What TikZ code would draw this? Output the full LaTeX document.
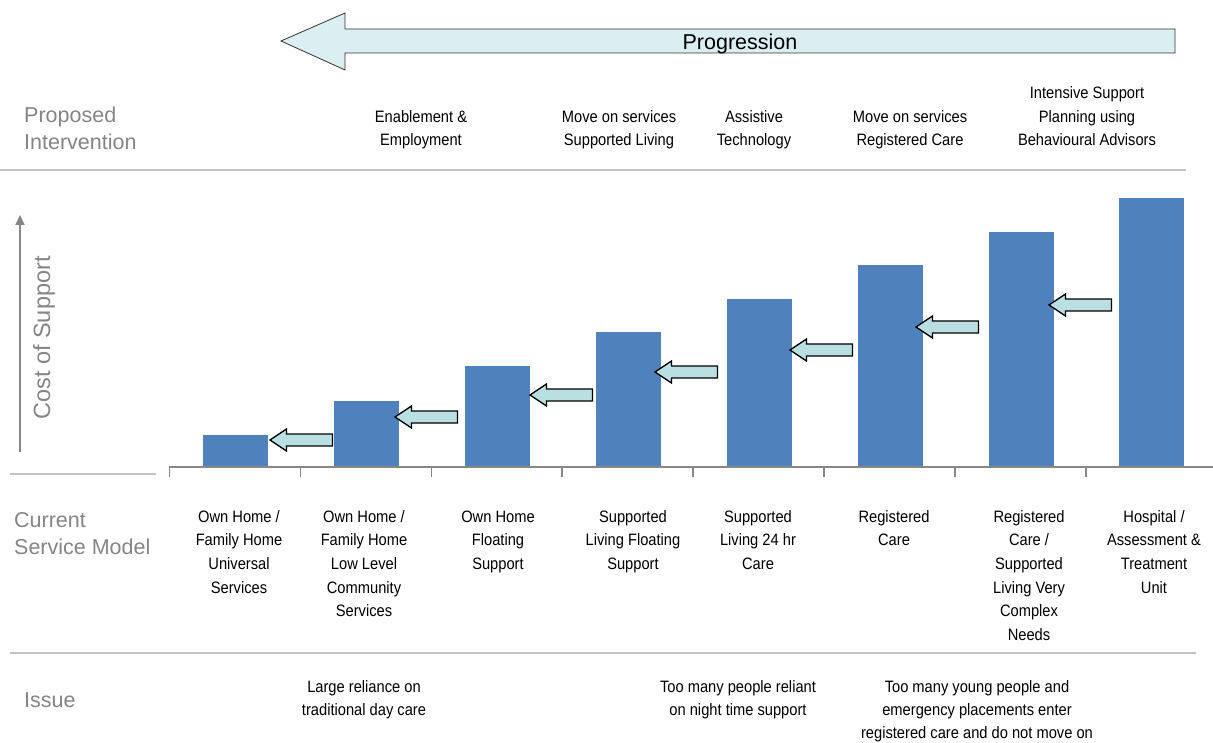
\documentclass[tikz,border=0pt]{standalone}
\usepackage{fontspec}
\setmainfont{Liberation Sans}
\newfontfamily\narrowfont[FakeStretch=0.89]{Liberation Sans}
\usetikzlibrary{arrows.meta}
\definecolor{barblue}{HTML}{4F81BD}
\definecolor{arrowfill}{HTML}{B9DFE2}
\definecolor{topfill}{HTML}{DBEEF2}
\definecolor{labelgray}{HTML}{858585}
\definecolor{linegray}{HTML}{C4C4C4}
\definecolor{axisgray}{HTML}{878787}
\begin{document}
\begin{tikzpicture}[x=1pt,y=-1pt,
  bar/.style={fill=barblue, draw=none, inner sep=0pt, outer sep=0pt, minimum width=65pt, anchor=south west},
  sarrow/.style={fill=arrowfill, draw=black, line width=1.3pt, line join=miter},
  toparrow/.style={fill=topfill, draw=black!80, line width=0.8pt},
  graylabel/.style={text=labelgray, font=\fontsize{21.5}{27.5}\selectfont, align=left, anchor=base west, inner sep=0pt},
  blacklabel/.style={font=\narrowfont\fontsize{16.5}{23.7}\selectfont, align=center, anchor=base, inner sep=0pt},
  issuelabel/.style={blacklabel, font=\narrowfont\fontsize{16.5}{23}\selectfont},
  sepline/.style={draw=linegray, line width=1.5pt},
  axisline/.style={draw=axisgray, line width=1.5pt}
  ]
\useasboundingbox (0,0) rectangle (1213,743);

% top progression arrow
\draw[toparrow] (281,41) -- (345,13) -- (345,29) -- (1175,29) -- (1175,53) -- (345,53) -- (345,70) -- cycle;
\node[font=\fontsize{21.5}{24}\selectfont, anchor=base, inner sep=0pt] (prog) at (740,50) {Progression};

% row labels (anchor = baseline of last line)
\node[graylabel] (propint) at (24,150) {Proposed\\Intervention};
\node[graylabel] (current) at (14,554.5) {Current\\Service Model};
\node[graylabel] (issue) at (24,707) {Issue};

% separator lines
\draw[sepline] (0,170) -- (1186,170);
\draw[sepline] (10,474) -- (156,474);
\draw[sepline] (10,653) -- (1196,653);

% intervention labels
\node[blacklabel] (i1) at (421,146) {Enablement \&\\Employment};
\node[blacklabel] (i2) at (619,146) {Move on services\\Supported Living};
\node[blacklabel] (i3) at (754,146) {Assistive\\Technology};
\node[blacklabel] (i4) at (910,146) {Move on services\\Registered Care};
\node[blacklabel] (i5) at (1087,146) {Intensive Support\\Planning using\\Behavioural Advisors};

% cost axis
\draw[axisgray, line width=2pt, -{Triangle[length=10pt,width=9pt]}] (20,452) -- (20,215);
\node[text=labelgray, font=\fontsize{23.5}{26}\selectfont, rotate=90, anchor=base, inner sep=0pt] (cost) at (50,338) {Cost of Support};

% bars
\node[bar, minimum height=32pt] (b1) at (203,467) {};
\node[bar, minimum height=66pt] (b2) at (334,467) {};
\node[bar, minimum height=101pt] (b3) at (465,467) {};
\node[bar, minimum height=135pt] (b4) at (596,467) {};
\node[bar, minimum height=168pt] (b5) at (727,467) {};
\node[bar, minimum height=202pt] (b6) at (858,467) {};
\node[bar, minimum height=235pt] (b7) at (989,467) {};
\node[bar, minimum height=269pt] (b8) at (1119,467) {};

% baseline axis and ticks
\draw[axisline] (169,467) -- (1213,467);
\foreach \k in {0,...,7} {
  \draw[axisline] ({169.5+130.9*\k},467) -- ({169.5+130.9*\k},477);
}

% small arrows between bars
\foreach \tx/\ty in {270/440, 395/417, 530/395, 655/372, 790/350, 916/327, 1049/305} {
  \draw[sarrow] (\tx,\ty) -- ++(16.5,-11) -- ++(0,5) -- ++(46,0) -- ++(0,12) -- ++(-46,0) -- ++(0,5) -- cycle;
}

% current service model labels
\node[blacklabel] (s1) at (239,593.1) {Own Home /\\Family Home\\Universal\\Services};
\node[blacklabel] (s2) at (364,616.8) {Own Home /\\Family Home\\Low Level\\Community\\Services};
\node[blacklabel] (s3) at (498,569.4) {Own Home\\Floating\\Support};
\node[blacklabel] (s4) at (633,569.4) {Supported\\Living Floating\\Support};
\node[blacklabel] (s5) at (758,569.4) {Supported\\Living 24 hr\\Care};
\node[blacklabel] (s6) at (894,545.7) {Registered\\Care};
\node[blacklabel] (s7) at (1029,640.5) {Registered\\Care /\\Supported\\Living Very\\Complex\\Needs};
\node[blacklabel] (s8) at (1154,593.1) {Hospital /\\Assessment \&\\Treatment\\Unit};

% issue labels
\node[issuelabel] (x1) at (364,715.5) {Large reliance on\\traditional day care};
\node[issuelabel] (x2) at (738,715.5) {Too many people reliant\\on night time support};
\node[issuelabel] (x3) at (977,738.5) {Too many young people and\\emergency placements enter\\registered care and do not move on};
\end{tikzpicture}
\end{document}
